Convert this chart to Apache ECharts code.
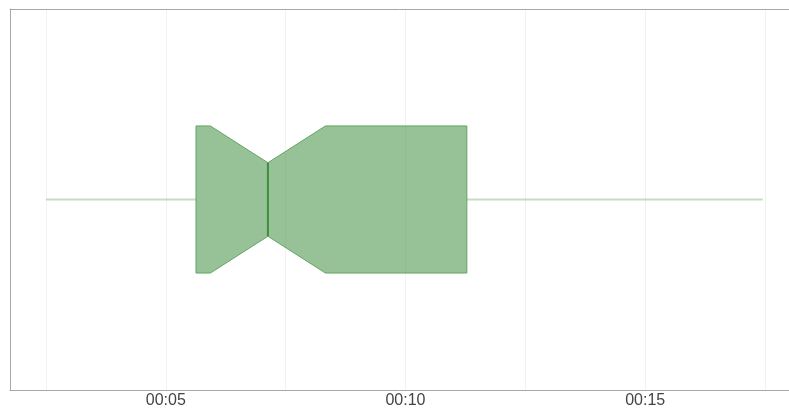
<!DOCTYPE html>
<html>
<head>
<meta charset="utf-8">
<script src="https://cdn.jsdelivr.net/npm/echarts@6/dist/echarts.min.js"></script>
<style>
  html, body { margin: 0; padding: 0; background: #fff; }
  #chart { width: 789px; height: 409px; }
</style>
</head>
<body>
<div id="chart"></div>
<script>
// Durations in seconds
const categories = ['duration'];
const lowerWhisker = [2.5];
const firstQuartile = [5.63];
const notchLow = [5.93];
const median = [7.13];
const notchHigh = [8.33];
const thirdQuartile = [11.28];
const upperWhisker = [17.45];

// Axis ticks (seconds)
const gridTicks = [2.5, 5, 7.5, 10, 12.5, 15, 17.5];
const labelTicks = [5, 10, 15];
const axisMin = 1.75;
const axisMax = 18;

const seriesData = categories.map((c, i) => [
  i, lowerWhisker[i], firstQuartile[i], notchLow[i], median[i],
  notchHigh[i], thirdQuartile[i], upperWhisker[i]
]);

function fmtTime(v) {
  const m = Math.floor(v / 60);
  const s = Math.round(v % 60);
  return String(m).padStart(2, '0') + ':' + String(s).padStart(2, '0');
}

function renderNotchedBox(params, api) {
  const cat = api.value(0);
  const x = (v) => api.coord([v, cat])[0];
  const cy = api.coord([api.value(4), cat])[1];
  const half = api.size([0, 1])[1] * 0.386 / 2;
  const notch = half / 2;
  const top = cy - half, bot = cy + half;
  const lo = x(api.value(1)), q1 = x(api.value(2)), nl = x(api.value(3)),
        md = x(api.value(4)), nh = x(api.value(5)), q3 = x(api.value(6)),
        hi = x(api.value(7));
  const whiskerStyle = { stroke: 'rgba(70,150,70,0.32)', lineWidth: 2 };
  return {
    type: 'group',
    children: [
      { type: 'line', shape: { x1: lo, y1: cy, x2: q1, y2: cy }, style: whiskerStyle },
      { type: 'line', shape: { x1: q3, y1: cy, x2: hi, y2: cy }, style: whiskerStyle },
      {
        type: 'polygon',
        shape: {
          points: [
            [q1, top], [nl, top], [md, cy - notch], [nh, top], [q3, top],
            [q3, bot], [nh, bot], [md, cy + notch], [nl, bot], [q1, bot]
          ]
        },
        style: { fill: 'rgba(48,134,48,0.5)', stroke: '#62a462', lineWidth: 1 }
      },
      {
        type: 'line',
        shape: { x1: md, y1: cy - notch, x2: md, y2: cy + notch },
        style: { stroke: '#3e8e3e', lineWidth: 2 }
      }
    ]
  };
}

const frameLine = { show: true, lineStyle: { color: '#a8a8a8', width: 1 } };

const chart = echarts.init(document.getElementById('chart'));
chart.setOption({
  animation: false,
  grid: { left: 10, right: 0, top: 9, bottom: 19, containLabel: false },
  xAxis: [{
    type: 'value',
    min: axisMin,
    max: axisMax,
    axisLine: frameLine,
    axisTick: { show: false, customValues: gridTicks },
    splitLine: { show: true, lineStyle: { color: '#f2f2f2', width: 1 } },
    axisLabel: {
      customValues: labelTicks,
      formatter: fmtTime,
      color: '#444',
      fontSize: 16,
      fontFamily: 'Liberation Sans, Arial, sans-serif',
      margin: 3
    }
  }, {
    type: 'value',
    position: 'top',
    min: axisMin,
    max: axisMax,
    axisLine: frameLine,
    axisTick: { show: false },
    axisLabel: { show: false },
    splitLine: { show: false }
  }],
  yAxis: {
    type: 'category',
    data: categories,
    axisLine: frameLine,
    axisTick: { show: false },
    axisLabel: { show: false },
    splitLine: { show: false }
  },
  series: [{
    type: 'custom',
    renderItem: renderNotchedBox,
    encode: { x: [1, 2, 3, 4, 5, 6, 7], y: 0 },
    data: seriesData
  }]
});
</script>
</body>
</html>
